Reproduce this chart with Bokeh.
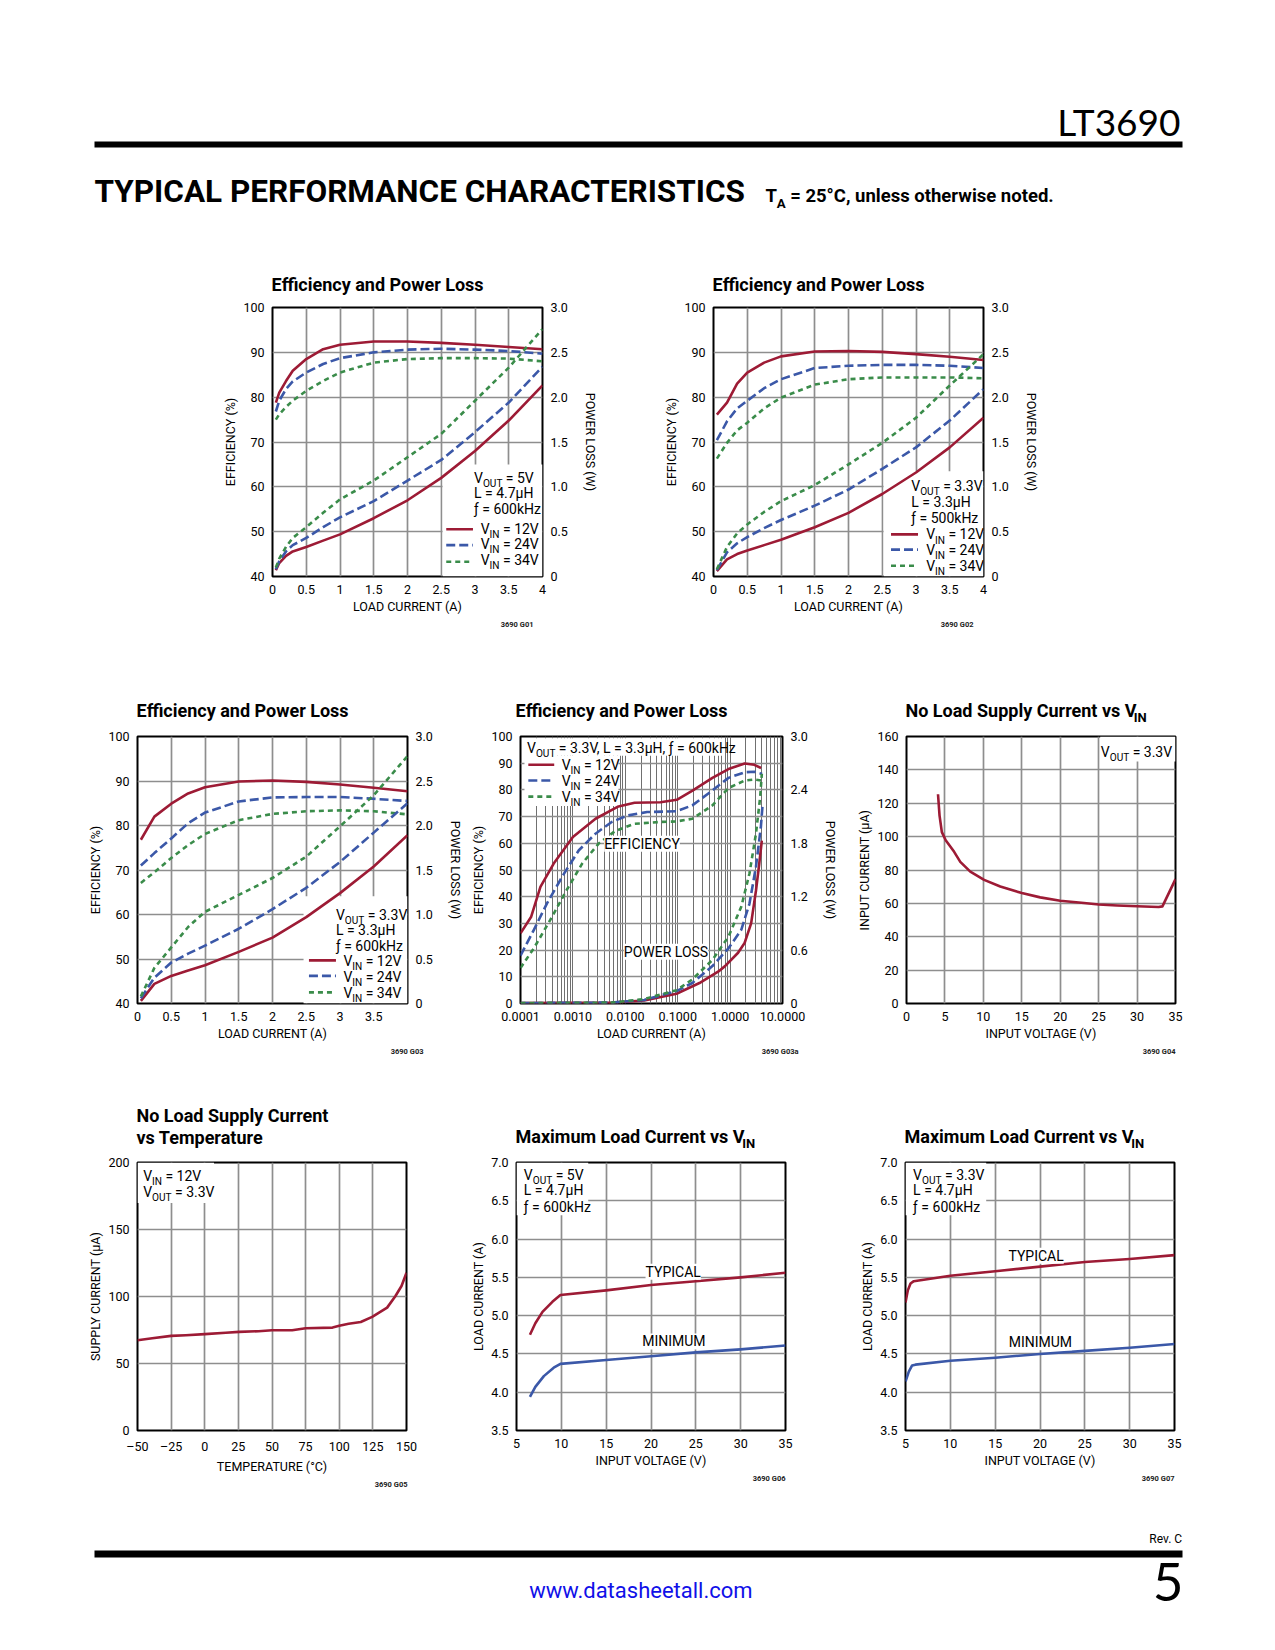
from bokeh.plotting import figure
from bokeh.models import Range1d, LinearAxis, FixedTicker, Label, Spacer, Title
from bokeh.layouts import column, row
from bokeh.embed import file_html
from bokeh.resources import INLINE

# ---------------------------------------------------------------- data
# G01  VOUT = 5V, L = 4.7uH, f = 600kHz
G01_I = [0.05, 0.1, 0.2, 0.3, 0.5, 0.75, 1.0, 1.5, 2.0, 2.5, 3.0, 3.5, 4.0]
G01_EFF_12V = [78.8, 81.0, 83.6, 85.9, 88.5, 90.7, 91.7, 92.4, 92.4, 92.1, 91.7, 91.2, 90.7]
G01_EFF_24V = [76.8, 79.2, 81.8, 83.5, 85.5, 87.4, 88.7, 90.0, 90.6, 90.8, 90.6, 90.3, 89.7]
G01_EFF_34V = [75.0, 76.2, 77.8, 79.2, 81.4, 83.6, 85.5, 87.7, 88.5, 88.7, 88.7, 88.6, 88.0]
G01_LOSS_12V = [0.07, 0.15, 0.23, 0.28, 0.33, 0.40, 0.47, 0.65, 0.85, 1.10, 1.40, 1.74, 2.13]
G01_LOSS_24V = [0.08, 0.17, 0.28, 0.35, 0.43, 0.55, 0.66, 0.84, 1.07, 1.30, 1.61, 1.94, 2.34]
G01_LOSS_34V = [0.10, 0.20, 0.33, 0.43, 0.55, 0.71, 0.86, 1.07, 1.33, 1.59, 1.96, 2.33, 2.76]

# G02  VOUT = 3.3V, L = 3.3uH, f = 500kHz
G02_I = [0.05, 0.2, 0.35, 0.5, 0.75, 1.0, 1.5, 2.0, 2.5, 3.0, 3.5, 4.0]
G02_EFF_12V = [76.1, 78.8, 83.0, 85.5, 87.7, 89.1, 90.2, 90.3, 90.1, 89.6, 89.0, 88.3]
G02_EFF_24V = [70.4, 74.6, 77.5, 79.2, 82.0, 84.0, 86.5, 87.0, 87.2, 87.2, 87.0, 86.5]
G02_EFF_34V = [66.3, 69.8, 72.6, 74.3, 77.5, 79.9, 82.8, 84.0, 84.4, 84.4, 84.4, 84.2]
G02_LOSS_12V = [0.06, 0.19, 0.25, 0.29, 0.35, 0.41, 0.55, 0.71, 0.92, 1.16, 1.44, 1.77]
G02_LOSS_24V = [0.07, 0.27, 0.37, 0.44, 0.54, 0.63, 0.79, 0.97, 1.20, 1.44, 1.74, 2.09]
G02_LOSS_34V = [0.08, 0.33, 0.48, 0.58, 0.72, 0.84, 1.02, 1.25, 1.49, 1.77, 2.13, 2.48]

# G03  VOUT = 3.3V, L = 3.3uH, f = 600kHz
G03_I = [0.05, 0.25, 0.5, 0.75, 1.0, 1.5, 2.0, 2.5, 3.0, 3.5, 4.0]
G03_EFF_12V = [76.8, 82.0, 84.9, 87.2, 88.6, 89.9, 90.1, 89.8, 89.2, 88.5, 87.7]
G03_EFF_24V = [71.0, 73.8, 77.1, 80.5, 82.9, 85.4, 86.3, 86.4, 86.4, 86.0, 85.5]
G03_EFF_34V = [67.1, 69.5, 72.7, 75.6, 78.1, 81.2, 82.6, 83.2, 83.4, 83.2, 82.5]
G03_LOSS_12V = [0.03, 0.22, 0.31, 0.37, 0.43, 0.58, 0.74, 0.97, 1.24, 1.54, 1.89]
G03_LOSS_24V = [0.06, 0.29, 0.46, 0.56, 0.65, 0.84, 1.06, 1.30, 1.59, 1.92, 2.25]
G03_LOSS_34V = [0.08, 0.40, 0.63, 0.86, 1.03, 1.22, 1.41, 1.65, 1.99, 2.34, 2.78]

# G03a  log load current
G03A_I_12V = [1.0e-4, 1.6e-4, 2.4e-4, 4.3e-4, 1.0e-3, 2.7e-3, 7.4e-3, 0.015, 0.047, 0.096, 0.195, 0.46, 0.93, 1.9, 2.9, 3.9]
G03A_EFF_12V = [26.3, 32.5, 43.7, 52.4, 62.4, 69.2, 73.8, 75.2, 75.4, 76.3, 79.8, 84.5, 87.8, 89.9, 89.4, 88.2]
G03A_I_24V = [1.0e-4, 1.8e-4, 3.2e-4, 6.5e-4, 1.3e-3, 2.7e-3, 5.5e-3, 0.011, 0.026, 0.095, 0.19, 0.46, 0.93, 1.9, 2.9, 4.1]
G03A_EFF_24V = [17.9, 27.6, 37.5, 48.1, 57.4, 63.6, 68.0, 70.4, 71.7, 72.0, 74.2, 79.8, 84.5, 86.6, 86.8, 86.0]
G03A_I_34V = [1.0e-4, 1.8e-4, 3.7e-4, 7.6e-4, 1.5e-3, 3.1e-3, 6.4e-3, 0.015, 0.047, 0.095, 0.19, 0.46, 0.93, 1.9, 2.9, 3.9]
G03A_EFF_34V = [13.3, 20.7, 31.3, 42.5, 52.4, 59.9, 64.6, 67.3, 68.0, 68.2, 69.2, 74.2, 80.7, 83.5, 83.9, 83.5]
G03A_I_LOSS_12V = [1.0e-4, 5.5e-3, 0.023, 0.095, 0.26, 0.6, 0.8, 1.42, 1.89, 2.52, 3.12, 3.6, 4.03]
G03A_LOSS_12V = [0.005, 0.01, 0.034, 0.11, 0.23, 0.36, 0.42, 0.57, 0.68, 0.90, 1.27, 1.57, 1.83]
G03A_I_LOSS_24V = [1.0e-4, 5.5e-3, 0.023, 0.095, 0.19, 0.46, 0.93, 1.64, 2.34, 3.12, 3.86, 4.14]
G03A_LOSS_24V = [0.005, 0.01, 0.04, 0.14, 0.23, 0.42, 0.62, 0.83, 1.12, 1.54, 1.98, 2.21]
G03A_I_LOSS_34V = [1.0e-4, 5.5e-3, 0.023, 0.095, 0.19, 0.46, 0.93, 1.64, 2.34, 3.12, 3.75, 4.03]
G03A_LOSS_34V = [0.005, 0.01, 0.05, 0.15, 0.27, 0.49, 0.75, 1.09, 1.46, 1.91, 2.32, 2.58]

# G04  no load supply current vs VIN
G04_VIN = [4.1, 4.3, 4.6, 5.1, 6.2, 7.0, 8.3, 10.1, 12.2, 15.0, 17.4, 20.0, 23.1, 25.0, 27.4, 30.0, 32.8, 33.3, 35.0]
G04_IIN = [125.4, 112.6, 102.7, 97.8, 90.9, 84.9, 79.0, 74.1, 70.1, 66.2, 63.6, 61.6, 60.2, 59.3, 58.7, 58.3, 57.8, 58.2, 74.5]

# G05  no load supply current vs temperature
G05_TEMP = [-50, -39, -25, -14, 0, 15.6, 25.5, 40, 50, 65, 75, 95, 100, 107, 116, 124.5, 135.6, 141.8, 146.3, 150]
G05_ISUP = [67.4, 68.9, 70.6, 71.1, 71.9, 72.9, 73.6, 74.1, 74.8, 74.8, 76.3, 76.8, 78.1, 79.6, 81.0, 84.8, 91.7, 100.4, 107.8, 117.7]

# G06  max load current vs VIN (VOUT = 5V)
G06_VIN_TYP = [6.5, 7.1, 7.9, 9.0, 9.9, 15, 20, 25, 30, 35]
G06_TYP = [4.75, 4.90, 5.05, 5.18, 5.27, 5.33, 5.40, 5.45, 5.50, 5.56]
G06_VIN_MIN = [6.5, 7.1, 8.05, 9.15, 9.9, 15, 20, 25, 30, 35]
G06_MIN = [3.94, 4.07, 4.21, 4.32, 4.37, 4.42, 4.47, 4.52, 4.56, 4.61]

# G07  max load current vs VIN (VOUT = 3.3V)
G07_VIN_TYP = [5.0, 5.26, 5.56, 5.93, 10, 15, 20, 25, 30, 35]
G07_TYP = [5.17, 5.33, 5.42, 5.45, 5.52, 5.58, 5.64, 5.70, 5.74, 5.79]
G07_VIN_MIN = [5.0, 5.37, 5.74, 6.1, 10, 15, 20, 25, 30, 35]
G07_MIN = [4.14, 4.27, 4.35, 4.36, 4.41, 4.45, 4.50, 4.54, 4.58, 4.63]

# tick values / labels
T_I = [0, 0.5, 1, 1.5, 2, 2.5, 3, 3.5, 4]
T_I_LBL = ["0", "0.5", "1", "1.5", "2", "2.5", "3", "3.5", "4"]
T_I_LBL3 = ["0", "0.5", "1", "1.5", "2", "2.5", "3", "3.5", ""]
T_EFF = [40, 50, 60, 70, 80, 90, 100]
T_LOSS = [0, 0.5, 1.0, 1.5, 2.0, 2.5, 3.0]
T_LOSS_LBL = ["0", "0.5", "1.0", "1.5", "2.0", "2.5", "3.0"]
T_LOG = [1e-4, 1e-3, 1e-2, 1e-1, 1, 10]
T_LOG_LBL = ["0.0001", "0.0010", "0.0100", "0.1000", "1.0000", "10.0000"]
T_EFF2 = [0, 10, 20, 30, 40, 50, 60, 70, 80, 90, 100]
T_LOSS2 = [0, 0.6, 1.2, 1.8, 2.4, 3.0]
T_LOSS2_LBL = ["0", "0.6", "1.2", "1.8", "2.4", "3.0"]
T_VIN = [0, 5, 10, 15, 20, 25, 30, 35]
T_IIN = [0, 20, 40, 60, 80, 100, 120, 140, 160]
T_TEMP = [-50, -25, 0, 25, 50, 75, 100, 125, 150]
T_TEMP_LBL = ["\u201350", "\u201325", "0", "25", "50", "75", "100", "125", "150"]
T_ISUP = [0, 50, 100, 150, 200]
T_VIN2 = [5, 10, 15, 20, 25, 30, 35]
T_ILOAD = [3.5, 4.0, 4.5, 5.0, 5.5, 6.0, 6.5, 7.0]
T_ILOAD_LBL = ["3.5", "4.0", "4.5", "5.0", "5.5", "6.0", "6.5", "7.0"]

# ---------------------------------------------------------------- style
FONT = "Roboto"
THIN = "Lato"
RED = "#9d1b35"
BLUE = "#3b58a8"
GREEN = "#3a8c4a"
GRID = "#8e8e8e"
LW = 2.6
DASH = {"12": "solid", "24": "9 4", "34": "5 4"}
COL = {"12": RED, "24": BLUE, "34": GREEN}
TICK_PX = 12.5
ANN_PX = 14
TITLE_PX = 18
MID = 0.345          # label 'middle' anchor -> baseline correction (fraction of size)

RW = dict(zip("ABCDEFGHIJKLMNOPQRSTUVWXYZ",
              [.652, .623, .651, .656, .568, .552, .681, .713, .272, .552, .627, .539, .874,
               .713, .688, .631, .688, .616, .594, .597, .648, .636, .887, .627, .601, .599]))
RW.update(dict(zip("abcdefghijklmnopqrstuvwxyz",
                   [.544, .561, .523, .549, .517, .347, .561, .539, .237, .239, .496, .237, .856,
                    .539, .557, .561, .561, .331, .503, .319, .539, .473, .733, .486, .462, .496])))
RW.update({" ": .248, ".": .263, ",": .196, "=": .549, "(": .342, ")": .348, "%": .733,
           "\u00b5": .56, "\u0192": .34, "\u00b0": .38, "\u2013": .55, "-": .276})
RW.update({d: .562 for d in "0123456789"})


def tw(s, size, bold=False):
    return sum(RW.get(c, .56) for c in s) * size * (1.015 if bold else 1.0)


def rich(p, x, y, parts, size, align="left", bold=False, color="black", font=FONT, bg=None):
    sub = size * 0.72
    widths = [tw(t, sub if s else size, bold) for t, s in parts]
    total = sum(widths)
    acc = {"left": 0.0, "right": -total, "center": -total / 2.0}[align]
    for (t, s), w in zip(parts, widths):
        fs = sub if s else size
        lead = len(t) - len(t.lstrip(" "))
        off = acc + tw(" " * lead, fs, bold)
        txt = t.strip(" ")
        base = -0.3 * size if s else 0.0
        if txt:
            p.add_layout(Label(
                x=x, y=y, x_offset=off, y_offset=base + MID * fs,
                text=txt, text_font=font, text_font_size=f"{fs:.1f}px",
                text_font_style="bold" if bold else "normal",
                text_color=color, text_align="left", text_baseline="middle",
                background_fill_color=bg))
        acc += w


def style_axis(ax, label, lab_standoff=8, axis_standoff=2):
    ax.axis_label = label
    ax.axis_label_text_font = FONT
    ax.axis_label_text_font_size = f"{TICK_PX}px"
    ax.axis_label_text_font_style = "normal"
    ax.axis_label_text_color = "black"
    ax.major_label_text_font = FONT
    ax.major_label_text_font_size = f"{TICK_PX}px"
    ax.major_label_text_color = "black"
    ax.axis_line_color = None
    ax.major_tick_line_color = None
    ax.minor_tick_line_color = None
    ax.major_tick_out = 0
    ax.major_tick_in = 0
    ax.minor_tick_out = 0
    ax.minor_tick_in = 0
    ax.major_label_standoff = lab_standoff
    ax.axis_label_standoff = axis_standoff


def chart(w, h, fl, ft, fw, fh, xr, yr, xt, xl, yt, yl, xlabel, ylabel, code, code_dx,
          xlog=False, xminor=None):
    p = figure(width=w, height=h, x_range=xr, y_range=yr,
               x_axis_type="log" if xlog else "linear",
               toolbar_location=None, output_backend="svg",
               min_border_left=fl, min_border_top=ft,
               min_border_right=w - fl - fw, min_border_bottom=h - ft - fh,
               background_fill_color="white", border_fill_color="white")
    p.outline_line_color = "black"
    p.outline_line_width = 2
    xtick = FixedTicker(ticks=xt, minor_ticks=xminor or [])
    ytick = FixedTicker(ticks=yt)
    p.xaxis.ticker = xtick
    p.yaxis.ticker = ytick
    p.xgrid.ticker = xtick
    p.ygrid.ticker = ytick
    p.xaxis.major_label_overrides = dict(zip(xt, xl))
    p.yaxis.major_label_overrides = dict(zip(yt, yl))
    style_axis(p.xaxis[0], xlabel, 8, 2)
    style_axis(p.yaxis[0], ylabel, 8, 2)
    p.grid.grid_line_color = GRID
    p.grid.grid_line_width = 1.7
    # code_dx: right edge of the code relative to the frame's right edge (px, + = right)
    p.add_layout(Title(text=code, align="right", offset=-code_dx, standoff=3,
                       text_font=FONT, text_font_size="7.5px", text_font_style="bold",
                       text_color="#222222"), "below")
    return p


def right_axis(p, ticks, labels, label):
    p.extra_y_ranges = {"pl": Range1d(0, 3)}
    ax = LinearAxis(y_range_name="pl", ticker=FixedTicker(ticks=ticks))
    ax.major_label_overrides = dict(zip(ticks, labels))
    style_axis(ax, label, 8, 12)
    p.add_layout(ax, "right")


def curve(p, x, y, key, rng="default"):
    p.line(x, y, line_color=COL[key], line_width=LW, line_dash=DASH[key],
           line_join="round", y_range_name=rng)


def white(p, l, r, b, t):
    p.quad(left=[l], right=[r], bottom=[b], top=[t], fill_color="white", line_color=None)


def vin_legend(p, kx0, kx1, ky, tx, ty):
    for key, yk, yt in zip(["12", "24", "34"], ky, ty):
        p.line([kx0, kx1], [yk, yk], line_color=COL[key], line_width=LW, line_dash=DASH[key])
        rich(p, tx, yt, [("V", False), ("IN", True), (f" = {key}V", False)], ANN_PX)


def cond(p, x, ys, lines):
    for y, parts in zip(ys, lines):
        rich(p, x, y, parts, ANN_PX)


def cond_lines(vout, l, f):
    return [[("V", False), ("OUT", True), (f" = {vout}", False)],
            [(f"L = {l}", False)],
            [(f"\u0192 = {f}", False)]]


def eff_loss_chart(w, h, fl, ft, fw, xl, I, e12, e24, e34, l12, l24, l34, box, tx, tys, conds,
                   kx0, kx1, kys, ltx, ltys, code, code_dx):
    p = chart(w, h, fl, ft, fw, 269, Range1d(0, 4), Range1d(40, 100),
              T_I, xl, T_EFF, [str(v) for v in T_EFF], "LOAD CURRENT (A)", "EFFICIENCY (%)",
              code, code_dx)
    right_axis(p, T_LOSS, T_LOSS_LBL, "POWER LOSS (W)")
    white(p, *box)
    curve(p, I, e12, "12"); curve(p, I, e24, "24"); curve(p, I, e34, "34")
    curve(p, I, l12, "12", "pl"); curve(p, I, l24, "24", "pl"); curve(p, I, l34, "34", "pl")
    cond(p, tx, tys, conds)
    vin_legend(p, kx0, kx1, kys, ltx, ltys)
    return p


def strip(y0, h):
    s = figure(width=1275, height=h, x_range=Range1d(0, 1275), y_range=Range1d(y0 + h, y0),
               toolbar_location=None, output_backend="svg", x_axis_location=None,
               y_axis_location=None, min_border=0, outline_line_color=None)
    s.grid.visible = False
    return s


def ctitle(s, x, y, text, sub=None):
    parts = [(text, False)] + ([(sub, True)] if sub else [])
    rich(s, x, y, parts, TITLE_PX, bold=True)


# ---------------------------------------------------------------- header strip (+ row 1 titles)
s0 = strip(0, 297)
s0.quad(left=[94], right=[1182], top=[141], bottom=[147], fill_color="black", line_color=None)
rich(s0, 1182, 134, [("LT3690", False)], 37, align="right", font=THIN)
rich(s0, 94, 202, [("TYPICAL PERFORMANCE CHARACTERISTICS", False)], 31.5, bold=True)
rich(s0, 765, 202, [("T", False), ("A", True), (" = 25\u00b0C, unless otherwise noted.", False)], 18.5, bold=True)
ctitle(s0, 271, 290, "Efficiency and Power Loss")
ctitle(s0, 712, 290, "Efficiency and Power Loss")

# ---------------------------------------------------------------- row 1
p1 = eff_loss_chart(440, 343, 72, 10, 270, T_I_LBL, G01_I, G01_EFF_12V, G01_EFF_24V, G01_EFF_34V,
                    G01_LOSS_12V, G01_LOSS_24V, G01_LOSS_34V, (2.52, 4, 40, 65),
                    2.985, [61.0, 57.5, 53.9], cond_lines("5V", "4.7\u00b5H", "600kHz"),
                    2.574, 2.97, [50.55, 47.0, 43.3], 3.084, [49.6, 46.1, 42.6], "3690 G01", -9)
p2 = eff_loss_chart(440, 343, 73, 10, 270, T_I_LBL, G02_I, G02_EFF_12V, G02_EFF_24V, G02_EFF_34V,
                    G02_LOSS_12V, G02_LOSS_24V, G02_LOSS_34V, (2.52, 4, 40, 63.5),
                    2.93, [59.1, 55.5, 52.0], cond_lines("3.3V", "3.3\u00b5H", "500kHz"),
                    2.63, 3.03, [49.4, 46.0, 42.4], 3.15, [48.3, 44.8, 41.3], "3690 G02", -10)

# ---------------------------------------------------------------- strip with row 2 titles
s1 = strip(640, 85)
ctitle(s1, 136, 716, "Efficiency and Power Loss")
ctitle(s1, 515, 716, "Efficiency and Power Loss")
ctitle(s1, 905, 716, "No Load Supply Current vs V", "IN")

# ---------------------------------------------------------------- row 2
p3 = eff_loss_chart(468, 345, 137, 11, 270, T_I_LBL3, G03_I, G03_EFF_12V, G03_EFF_24V, G03_EFF_34V,
                    G03_LOSS_12V, G03_LOSS_24V, G03_LOSS_34V, (2.46, 4, 40, 64.1),
                    2.94, [58.9, 55.4, 51.9], cond_lines("3.3V", "3.3\u00b5H", "600kHz"),
                    2.54, 2.94, [49.7, 46.2, 42.5], 3.05, [48.4, 44.8, 41.3], "3690 G03", 16)

LOG_MINOR = [m * 10.0 ** e for e in range(-4, 1) for m in range(2, 10)]
p4 = chart(372, 345, 48, 11, 270, 269, Range1d(1e-4, 10), Range1d(0, 100), T_LOG, T_LOG_LBL,
           T_EFF2, [str(v) for v in T_EFF2], "LOAD CURRENT (A)", "EFFICIENCY (%)",
           "3690 G03a", 16, xlog=True, xminor=LOG_MINOR)
p4.xgrid.grid_line_color = "#707070"
p4.xgrid.grid_line_width = 1.0
p4.xgrid.minor_grid_line_color = "#707070"
p4.xgrid.minor_grid_line_width = 1.0
right_axis(p4, T_LOSS2, T_LOSS2_LBL, "POWER LOSS (W)")
white(p4, 1.19e-4, 0.70, 92.8, 99.3)
white(p4, 1.19e-4, 7.4e-3, 74.0, 92.8)
curve(p4, G03A_I_12V, G03A_EFF_12V, "12")
curve(p4, G03A_I_24V, G03A_EFF_24V, "24")
curve(p4, G03A_I_34V, G03A_EFF_34V, "34")
curve(p4, G03A_I_LOSS_12V, G03A_LOSS_12V, "12", "pl")
curve(p4, G03A_I_LOSS_24V, G03A_LOSS_24V, "24", "pl")
curve(p4, G03A_I_LOSS_34V, G03A_LOSS_34V, "34", "pl")
rich(p4, 1.33e-4, 94.0, [("V", False), ("OUT", True), (" = 3.3V, L = 3.3\u00b5H, \u0192 = 600kHz", False)], ANN_PX)
vin_legend(p4, 1.41e-4, 4.4e-4, [89.4, 83.5, 77.5], 6.1e-4, [87.6, 81.6, 75.7])
rich(p4, 0.0208, 58.0, [("EFFICIENCY", False)], ANN_PX, align="center", bg="white")
rich(p4, 0.0604, 17.6, [("POWER LOSS", False)], ANN_PX, align="center", bg="white")

p5 = chart(435, 345, 66, 9, 269, 269, Range1d(0, 35), Range1d(0, 160), T_VIN,
           [str(v) for v in T_VIN], T_IIN, [str(v) for v in T_IIN],
           "INPUT VOLTAGE (V)", "INPUT CURRENT (\u00b5A)", "3690 G04", 0)
white(p5, 25.2, 35, 145, 160)
p5.line(G04_VIN, G04_IIN, line_color=RED, line_width=LW, line_join="round")
rich(p5, 34.56, 148.1, [("V", False), ("OUT", True), (" = 3.3V", False)], ANN_PX, align="right")

# ---------------------------------------------------------------- strip with row 3 titles
s2 = strip(1070, 82)
ctitle(s2, 136, 1121, "No Load Supply Current")
ctitle(s2, 136, 1143, "vs Temperature")
ctitle(s2, 515, 1142, "Maximum Load Current vs V", "IN")
ctitle(s2, 904, 1142, "Maximum Load Current vs V", "IN")

# ---------------------------------------------------------------- row 3
p6 = chart(468, 348, 137, 9, 269, 269, Range1d(-50, 150), Range1d(0, 200), T_TEMP, T_TEMP_LBL,
           T_ISUP, [str(v) for v in T_ISUP], "TEMPERATURE (\u00b0C)", "SUPPLY CURRENT (\u00b5A)",
           "3690 G05", 1)
white(p6, -50, 6.9, 169.8, 200)
p6.line(G05_TEMP, G05_ISUP, line_color=RED, line_width=LW, line_join="round")
cond(p6, -45.8, [186.6, 174.7], [[("V", False), ("IN", True), (" = 12V", False)],
                                 [("V", False), ("OUT", True), (" = 3.3V", False)]])

p7 = chart(372, 348, 48, 10, 269, 269, Range1d(5, 35), Range1d(3.5, 7.0), T_VIN2,
           [str(v) for v in T_VIN2], T_ILOAD, T_ILOAD_LBL, "INPUT VOLTAGE (V)", "LOAD CURRENT (A)",
           "3690 G06", 0)
white(p7, 5, 13.0, 6.31, 7)
p7.line(G06_VIN_TYP, G06_TYP, line_color=RED, line_width=LW, line_join="round")
p7.line(G06_VIN_MIN, G06_MIN, line_color=BLUE, line_width=LW, line_join="round")
cond(p7, 5.82, [6.78, 6.58, 6.36], cond_lines("5V", "4.7\u00b5H", "600kHz"))
rich(p7, 22.47, 5.51, [("TYPICAL", False)], ANN_PX, align="center", bg="white")
rich(p7, 22.55, 4.60, [("MINIMUM", False)], ANN_PX, align="center", bg="white")

p8 = chart(435, 348, 65, 10, 269, 269, Range1d(5, 35), Range1d(3.5, 7.0), T_VIN2,
           [str(v) for v in T_VIN2], T_ILOAD, T_ILOAD_LBL, "INPUT VOLTAGE (V)", "LOAD CURRENT (A)",
           "3690 G07", 0)
white(p8, 5, 14.0, 6.31, 7)
p8.line(G07_VIN_TYP, G07_TYP, line_color=RED, line_width=LW, line_join="round")
p8.line(G07_VIN_MIN, G07_MIN, line_color=BLUE, line_width=LW, line_join="round")
cond(p8, 5.85, [6.78, 6.58, 6.36], cond_lines("3.3V", "4.7\u00b5H", "600kHz"))
rich(p8, 19.56, 5.72, [("TYPICAL", False)], ANN_PX, align="center", bg="white")
rich(p8, 20.04, 4.59, [("MINIMUM", False)], ANN_PX, align="center", bg="white")

# ---------------------------------------------------------------- footer strip
s3 = strip(1500, 150)
s3.quad(left=[94], right=[1182], top=[1550], bottom=[1557], fill_color="black", line_color=None)
rich(s3, 1182, 1543, [("Rev. C", False)], 12, align="right")
rich(s3, 1182, 1600, [("5", False)], 53, align="right", font=THIN)
rich(s3, 639, 1598, [("www.datasheetall.com", False)], 22, align="center", color="#1010e8")

layout = column(
    s0,
    row(Spacer(width=200, height=343), p1, p2),
    s1,
    row(p3, p4, p5),
    s2,
    row(p6, p7, p8),
    s3,
)

open("out.html", "w").write(file_html(layout, INLINE))
